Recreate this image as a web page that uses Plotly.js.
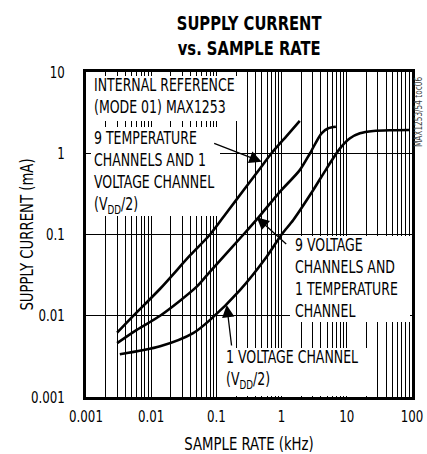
<!DOCTYPE html>
<html>
<head>
<meta charset="utf-8">
<script src="https://cdn.plot.ly/plotly-3.0.1.min.js"></script>
<style>html,body{margin:0;padding:0;background:#fff;}#chart{width:427px;height:454px;}</style>
</head>
<body>
<div id="chart"></div>
<script>
// ---- data ----
const tempRateKHz = [0.003, 0.005, 0.0137, 0.04, 0.08, 0.15, 0.275, 0.47, 0.7, 1.2, 1.9];
const tempCurrentMA = [0.0062, 0.0095, 0.0215, 0.056, 0.1, 0.195, 0.37, 0.655, 1.0, 1.64, 2.5];

const voltRateKHz = [0.003, 0.006, 0.0137, 0.05, 0.08, 0.26, 0.45, 0.94, 1.9, 2.73, 4.1, 5.2, 6.8];
const voltCurrentMA = [0.0046, 0.0067, 0.01, 0.0228, 0.035, 0.1, 0.165, 0.335, 0.62, 1.0, 1.76, 2.03, 2.12];

const oneRateKHz = [0.0033, 0.0137, 0.044, 0.08, 0.23, 0.59, 1.0, 1.51, 3.06, 4.92, 7.87, 11.2, 15.9, 25.5, 50, 90];
const oneCurrentMA = [0.00335, 0.0042, 0.0061, 0.0089, 0.0207, 0.0533, 0.1, 0.151, 0.353, 0.652, 1.15, 1.53, 1.76, 1.88, 1.92, 1.93];

const xTickVals = [0.001, 0.01, 0.1, 1, 10, 100];
const xTickText = ['0.001', '0.01', '0.1', '1', '10', '100'];
const yTickVals = [0.001, 0.01, 0.1, 1, 10];
const yTickText = ['0.001', '0.01', '0.1', '1', '10'];

const labelTemp = '9 TEMPERATURE<br>CHANNELS AND 1<br>VOLTAGE CHANNEL<br>(V<sub>DD</sub>/2)';
const labelVolt = '9 VOLTAGE<br>CHANNELS AND<br>1 TEMPERATURE<br>CHANNEL';
const labelOne = '1 VOLTAGE CHANNEL<br>(V<sub>DD</sub>/2)';
const labelRef = 'INTERNAL REFERENCE<br>(MODE 01) MAX1253';

// arrow targets (kHz, mA) on the curves
const arrowTemp = [0.495, 0.787];
const arrowVolt = [0.415, 0.163];
const arrowOne = [0.144, 0.01355];

// ---- minor grid positions (2..9 in each decade) ----
const minorX = [];
for (let e = -3; e <= 1; e++) for (let d = 2; d <= 9; d++) minorX.push(d * Math.pow(10, e));

const FONT = "'DejaVu Sans Condensed', 'Liberation Sans Narrow', sans-serif";

const lineStyle = {color: '#000', width: 2.6, shape: 'spline', smoothing: 0.8};
const traces = [
  {x: tempRateKHz, y: tempCurrentMA, mode: 'lines', line: lineStyle, hoverinfo: 'skip'},
  {x: voltRateKHz, y: voltCurrentMA, mode: 'lines', line: lineStyle, hoverinfo: 'skip'},
  {x: oneRateKHz, y: oneCurrentMA, mode: 'lines', line: lineStyle, hoverinfo: 'skip'}
];

// white boxes behind the labels that interrupt the grid
function mask(x, y, w, h) {
  return {text: ' ', xref: 'paper', yref: 'paper', x: x, y: y, xanchor: 'left', yanchor: 'top',
          width: w, height: h, bgcolor: '#fff', borderpad: 0, borderwidth: 0, showarrow: false,
          font: {family: FONT, size: 4, color: '#fff'}};
}
function textNote(text, x, y) {
  return {text: text, xref: 'paper', yref: 'paper', x: x, y: y, xanchor: 'left', yanchor: 'middle',
          align: 'left', showarrow: false, font: {family: FONT, size: 17, color: '#000'}};
}
function arrowNote(pt, ax, ay) {
  return {text: '', x: Math.log10(pt[0]), y: Math.log10(pt[1]), xref: 'x', yref: 'y',
          showarrow: true, arrowhead: 2, arrowsize: 1.9, arrowwidth: 1.3, arrowcolor: '#000',
          ax: ax, ay: ay, standoff: 0};
}

const layout = {
  width: 427, height: 454,
  margin: {l: 86, r: 15, t: 72, b: 57},
  paper_bgcolor: '#fff', plot_bgcolor: '#fff',
  showlegend: false,
  title: {text: '<b>SUPPLY CURRENT<br>vs. SAMPLE RATE</b>', x: 0.5835, xanchor: 'center',
          y: 0.935, yanchor: 'middle',
          font: {family: FONT, size: 20, color: '#000'}},
  xaxis: {
    type: 'log', range: [-3, 2], tickmode: 'array', tickvals: xTickVals, ticktext: xTickText,
    showgrid: true, gridcolor: '#000', gridwidth: 1,
    minor: {tickmode: 'array', tickvals: minorX, showgrid: true, gridcolor: '#000', gridwidth: 1, ticks: ''},
    showline: true, linecolor: '#000', linewidth: 3, mirror: true,
    ticks: 'outside', ticklen: 3, tickcolor: 'rgba(0,0,0,0)',
    tickfont: {family: FONT, size: 16, color: '#000'},
    title: {text: 'SAMPLE RATE (kHz)', standoff: 22, font: {family: FONT, size: 18, color: '#000'}},
    zeroline: false, fixedrange: true
  },
  yaxis: {
    type: 'log', range: [-3, 1], tickmode: 'array', tickvals: yTickVals, ticktext: yTickText,
    showgrid: true, gridcolor: '#000', gridwidth: 1,
    showline: true, linecolor: '#000', linewidth: 3, mirror: true,
    ticks: 'outside', ticklen: 15, tickcolor: 'rgba(0,0,0,0)',
    tickfont: {family: FONT, size: 16, color: '#000'},
    title: {text: 'SUPPLY CURRENT (mA)', standoff: 0, font: {family: FONT, size: 18, color: '#000'}},
    zeroline: false, fixedrange: true
  },
  annotations: [
    mask(0.0153, 0.9877, 150, 45),
    mask(0.0153, 0.8308, 129, 89),
    mask(0.6258, 0.4954, 120, 86),
    mask(0.4172, 0.1508, 150, 48),
    textNote(labelRef, 0.0175, 0.9252),
    textNote(labelTemp, 0.0184, 0.6908),
    textNote(labelVolt, 0.635, 0.3662),
    textNote(labelOne, 0.4233, 0.0855),
    arrowNote(arrowTemp, -49, -19),
    arrowNote(arrowVolt, 31, 28),
    arrowNote(arrowOne, 5, 42),
    {text: 'MAX1253/54 toc06', xref: 'paper', yref: 'paper', x: 1.021, y: 0.877,
     textangle: -90, showarrow: false, xanchor: 'center', yanchor: 'middle',
     font: {family: FONT, size: 10, color: '#444'}}
  ]
};

Plotly.newPlot('chart', traces, layout, {staticPlot: true, displayModeBar: false}).then(function (gd) {
  // condense all text horizontally (the reference uses a condensed face)
  const S = 0.82;
  gd.querySelectorAll('svg text').forEach(function (t) {
    if (!t.textContent.trim()) return;
    const x = parseFloat(t.getAttribute('x')) || 0;
    const y = parseFloat(t.getAttribute('y')) || 0;
    const tr = t.getAttribute('transform') || '';
    t.setAttribute('transform', tr + ' translate(' + x + ',' + y + ') scale(' + S + ',1) translate(' + (-x) + ',' + (-y) + ')');
  });
  // place the y-axis title centred at x = 27 px like the reference
  const yt = gd.querySelector('.ytitle');
  if (yt) {
    const r = yt.getBoundingClientRect();
    const g = gd.getBoundingClientRect();
    const dx = 27 - (r.left - g.left + r.width / 2);
    yt.setAttribute('transform', 'translate(' + dx + ',0) ' + (yt.getAttribute('transform') || ''));
  }
});
</script>
</body>
</html>
